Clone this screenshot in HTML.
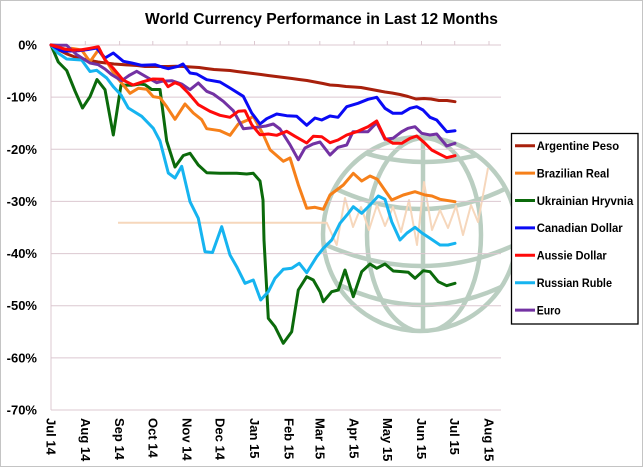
<!DOCTYPE html>
<html>
<head>
<meta charset="utf-8">
<style>
  html,body{margin:0;padding:0;background:#fff;}
  svg{display:block;}
  text{font-family:"Liberation Sans",Arial,sans-serif;}
</style>
</head>
<body>
<svg width="644" height="468" viewBox="0 0 644 468" xmlns="http://www.w3.org/2000/svg">
  <rect x="0" y="0" width="644" height="468" fill="#fff"/>
  <rect x="0.5" y="0.5" width="642" height="466" fill="none" stroke="#c4c4c4" stroke-width="1"/>

  <!-- title -->
  <text x="145" y="24" font-size="15.5" font-weight="bold" fill="#000" textLength="353" lengthAdjust="spacingAndGlyphs">World Currency Performance in Last 12 Months</text>

  <!-- watermark globe -->
  <defs>
    <clipPath id="gc"><circle cx="420" cy="234" r="97"/></clipPath>
  </defs>
  <g fill="none" stroke="#b7ccbe" stroke-width="4.5" opacity="0.95">
    <circle cx="420" cy="234" r="97"/>
    <g clip-path="url(#gc)">
      <line x1="423" y1="130" x2="423" y2="333"/>
      <ellipse cx="424" cy="235" rx="57" ry="97"/>
      <path d="M350,148 Q423,176 500,148"/>
      <path d="M315,178 Q423,240 525,178"/>
      <path d="M315,240 Q423,292 525,240"/>
      <path d="M330,280 Q423,330 515,280"/>
    </g>
  </g>
  <!-- peach zigzag watermark -->
  <polyline fill="none" stroke="#f6d7bc" stroke-width="2" stroke-linejoin="round"
    points="118,222.7 326.7,222.7 336.7,245 345,198 353,227 361,207 369,230 377,205 385,226 393,207 401,232 409,200 417,245 424,182 432,230 440,210 448,228 456,206 463,235 471,205 478,222 488,168"/>

  <!-- gridlines -->
  <g stroke="#dcc8d0" stroke-width="1">
    <line x1="51" y1="45" x2="501" y2="45"/>
    <line x1="51" y1="97.14" x2="501" y2="97.14"/>
    <line x1="51" y1="149.29" x2="501" y2="149.29"/>
    <line x1="51" y1="201.43" x2="501" y2="201.43"/>
    <line x1="51" y1="253.57" x2="501" y2="253.57"/>
    <line x1="51" y1="305.71" x2="501" y2="305.71"/>
    <line x1="51" y1="357.86" x2="501" y2="357.86"/>
    <line x1="51" y1="410" x2="501" y2="410"/>
    <line x1="51" y1="45" x2="51" y2="410"/>
    <!-- month ticks -->
    <line x1="85.3" y1="41" x2="85.3" y2="45"/>
    <line x1="119.6" y1="41" x2="119.6" y2="45"/>
    <line x1="152.8" y1="41" x2="152.8" y2="45"/>
    <line x1="187" y1="41" x2="187" y2="45"/>
    <line x1="220.2" y1="41" x2="220.2" y2="45"/>
    <line x1="254.5" y1="41" x2="254.5" y2="45"/>
    <line x1="288.8" y1="41" x2="288.8" y2="45"/>
    <line x1="319.8" y1="41" x2="319.8" y2="45"/>
    <line x1="354.1" y1="41" x2="354.1" y2="45"/>
    <line x1="387.3" y1="41" x2="387.3" y2="45"/>
    <line x1="421.5" y1="41" x2="421.5" y2="45"/>
    <line x1="454.7" y1="41" x2="454.7" y2="45"/>
    <line x1="489" y1="41" x2="489" y2="45"/>
  </g>

  <!-- y labels -->
  <g font-size="13" font-weight="bold" fill="#000" text-anchor="end">
    <text x="37" y="49.5">0%</text>
    <text x="37" y="101.6">-10%</text>
    <text x="37" y="153.8">-20%</text>
    <text x="37" y="205.9">-30%</text>
    <text x="37" y="258">-40%</text>
    <text x="37" y="310.2">-50%</text>
    <text x="37" y="362.3">-60%</text>
    <text x="37" y="414.5">-70%</text>
  </g>

  <!-- x labels -->
  <g font-size="13" font-weight="bold" fill="#000" dominant-baseline="central">
    <text transform="translate(51,418) rotate(90)">Jul 14</text>
    <text transform="translate(85.3,418) rotate(90)">Aug 14</text>
    <text transform="translate(119.6,418) rotate(90)">Sep 14</text>
    <text transform="translate(152.8,418) rotate(90)">Oct 14</text>
    <text transform="translate(187,418) rotate(90)">Nov 14</text>
    <text transform="translate(220.2,418) rotate(90)">Dec 14</text>
    <text transform="translate(254.5,418) rotate(90)">Jan 15</text>
    <text transform="translate(288.8,418) rotate(90)">Feb 15</text>
    <text transform="translate(319.8,418) rotate(90)">Mar 15</text>
    <text transform="translate(354.1,418) rotate(90)">Apr 15</text>
    <text transform="translate(387.3,418) rotate(90)">May 15</text>
    <text transform="translate(421.5,418) rotate(90)">Jun 15</text>
    <text transform="translate(454.7,418) rotate(90)">Jul 15</text>
    <text transform="translate(489,418) rotate(90)">Aug 15</text>
  </g>

  <!-- series -->
  <g fill="none" stroke-width="3" stroke-linejoin="round" stroke-linecap="round">
    <!-- Argentine Peso -->
    <polyline stroke="#a8200c" points="51,45 59,50 67,54 75,57 83,59 90,60.5 98,62 106,63 114,64 121,64.5 129,65 137,65.5 145,66.5 152,66.5 160,66.5 168,66.5 176,66.3 183,66.5 191,67 199,67.5 206,68.5 214,69.5 222,70 230,70.5 237,71.5 245,72.5 253,73.5 261,74.5 268,75.5 276,76.5 284,77.5 292,78.5 299,79.5 307,80.5 315,82 323,83.5 330,85 338,85.5 346,86.5 354,87 361,87.5 369,89 377,90.5 385,92 392,93 400,94.5 408,96.5 416,99 424,98.5 431,99 439,100.5 447,100.5 455,101.7"/>
    <!-- Ukrainian Hryvnia -->
    <polyline stroke="#0b6a0b" points="51,45 58.3,62 66.7,70.5 75,91 82.5,108 90,96.7 97,79.5 105,89.7 113.3,135 121,85 131.7,85.3 140,84 145,84.7 151.7,89.5 160,89.5 166.7,141 175,167 183.3,155.5 190,153.3 198.3,165 206.7,172.7 220,173.3 236.7,173.3 246.7,174 253.3,173.3 260,181 263,200 264,240 268.3,318.3 275,326.7 283.3,343.3 291.7,331.7 298.3,290 306.7,276.7 313.3,280 320,291.7 323.3,301.7 331.7,291.7 338.3,290 345,270 353.3,296.7 361.7,271.7 370,264 376.7,268.3 385,264 393.3,271 400,271.5 408.3,272.3 415,278.3 423.3,270.7 430,271.7 438.3,281.7 446.7,285.7 455,283.3"/>
    <!-- Russian Ruble -->
    <polyline stroke="#16b4f0" points="51,45 58,53 66.7,59 74,59.5 81.7,60 90,71.5 96.7,70.3 106.7,78 113.3,86.7 121,95 128.3,108 141.7,116.3 153.3,128.3 160,141 168.3,173 175,178 181.7,166.3 190,201.7 198.3,218.3 205,251.7 212.5,252.5 221.7,226.7 230,255 236.7,266.7 245,283.3 253.3,280 260.7,300 268.3,291.7 275,278.3 283.3,269.3 291.7,268.3 299.3,263.3 306.7,272.7 316.7,256.7 323.3,248.3 331.7,240 340,223.3 348.3,213.3 353.3,206.7 361.7,213.3 370,205 378.3,196 385,199.3 391.7,221.7 400,240 407,233 415,227.3 422,233 430,238.3 440,245 448,245 455,243.3"/>
    <!-- Brazilian Real -->
    <polyline stroke="#f6801a" points="51,45 58,47.5 66.7,49.3 71.7,48.3 81.7,50 90,61.7 98.3,50 106.7,61.7 115,75 123.3,85 130,93.3 138.3,88.3 146.7,89.3 153.3,96.7 160,97.7 166.7,106.7 175,119.3 185,104 193.3,113 201.7,119.7 206.7,128.7 220,130.7 230,135.3 238.3,124 248.3,119.7 253.3,116.3 263.3,134.7 270,149.7 283.3,161.3 290,158 298.3,184.7 306.7,208.3 315,207.3 323.3,209.3 330,195 343.3,185 353.3,173.3 361.7,181 370,176 377.3,179.3 384,189 391.7,200 403.3,195 415,191.7 425,195 432,196 440,199.3 455,201.7"/>
    <!-- Canadian Dollar -->
    <polyline stroke="#0a0af5" points="51,45 58,49 63.3,51.3 70,51 78.3,50.7 88,49.5 96.7,48 105,58 113.3,53 123.3,61.3 131.7,63 141.7,65.3 155,64.7 162,67 168.3,68.7 178.3,66.3 183,64 190,73 196.7,74 206.7,79.7 220,82 230,88 243.3,96.3 251.7,113 260,124 266.7,118.7 276.7,114 286.7,115.7 296.7,116.3 306.7,125.3 315,118 321.7,120 330,116 338,117.3 346.7,106.7 358,103.3 368,99.3 376.7,97.3 385,108.3 393,113.3 401.7,113.3 410,108.3 416.7,106.7 423,110 430,117.3 436.7,120 446.7,131.7 455,130.7"/>
    <!-- Euro -->
    <polyline stroke="#7332a3" points="51,45 58,45.3 66.7,45.3 76.7,54.7 90,63 98.3,64.7 105,69 111.7,74.7 121.7,80.7 129,75.5 136.7,71.3 148.3,78 156.7,82.7 161.7,81.3 171.7,80.7 181.7,84 190,89.7 198.3,83 206.7,91.3 213.3,94 223.3,101.3 233.3,110.7 243.3,128.7 256.7,127.3 266,126 273.3,124 280,129 290,144.7 298.3,159.7 305,148 313,144 320,142 330,155 338,147.3 346.7,145 353,131.7 360,131.7 368,131.7 376.7,122.7 385,139.3 393,138.3 401.7,131.7 408,128.3 415,126.7 421.7,133.3 430,135 436.7,134 446.7,146 455,143.3"/>
    <!-- Aussie Dollar -->
    <polyline stroke="#ff0a0a" points="51,45 58,47 65,49.3 72,50 80,50 90,48.3 98.3,46.7 105,60 113,68 123,80 133,85 143,81.7 153,79 163,79.3 168,86.7 175,82.7 180,84.7 188.3,93 198.3,104.7 210,111.3 220,115.3 230,117.3 238.3,111.3 245,110.7 251.7,124.7 260,134.7 268.3,134 276.7,135.3 286.7,131.3 295,136.3 306.7,143 313.3,136.3 321.7,136.7 330,142.7 338,140 346.7,135 356.7,131.7 368,126.7 376.7,121 385,138.3 393,143.3 401.7,143.3 410,138.3 416.7,136 425,143.3 431.7,150 440,154.3 446.7,157.7 455,155.7"/>
  </g>

  <!-- legend -->
  <rect x="511.5" y="133.5" width="126.5" height="190.5" fill="#fff" stroke="#000" stroke-width="1.3"/>
  <g stroke-width="3">
    <line x1="515" y1="145.7" x2="535" y2="145.7" stroke="#a8200c"/>
    <line x1="515" y1="173.1" x2="535" y2="173.1" stroke="#f6801a"/>
    <line x1="515" y1="200.5" x2="535" y2="200.5" stroke="#0b6a0b"/>
    <line x1="515" y1="227.9" x2="535" y2="227.9" stroke="#0a0af5"/>
    <line x1="515" y1="255.3" x2="535" y2="255.3" stroke="#ff0a0a"/>
    <line x1="515" y1="282.7" x2="535" y2="282.7" stroke="#16b4f0"/>
    <line x1="515" y1="310.1" x2="535" y2="310.1" stroke="#7332a3"/>
  </g>
  <g font-size="11.5" font-weight="bold" fill="#000">
    <text x="536.7" y="150" textLength="82.5" lengthAdjust="spacingAndGlyphs">Argentine Peso</text>
    <text x="536.7" y="177.4" textLength="72.6" lengthAdjust="spacingAndGlyphs">Brazilian Real</text>
    <text x="536.7" y="204.8" textLength="96.6" lengthAdjust="spacingAndGlyphs">Ukrainian Hryvnia</text>
    <text x="536.7" y="232.2" textLength="86" lengthAdjust="spacingAndGlyphs">Canadian Dollar</text>
    <text x="536.7" y="259.6" textLength="70" lengthAdjust="spacingAndGlyphs">Aussie Dollar</text>
    <text x="536.7" y="287" textLength="75.3" lengthAdjust="spacingAndGlyphs">Russian Ruble</text>
    <text x="536.7" y="314.4" textLength="24" lengthAdjust="spacingAndGlyphs">Euro</text>
  </g>
</svg>
</body>
</html>
